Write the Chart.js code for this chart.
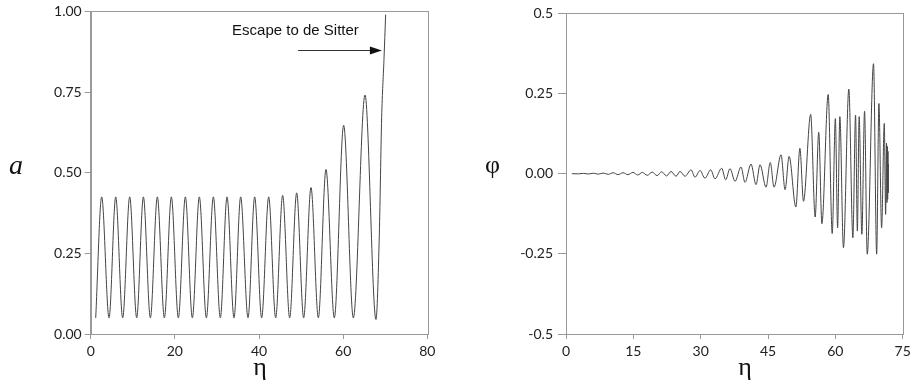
<!DOCTYPE html>
<html>
<head>
<meta charset="utf-8">
<script src="https://cdn.jsdelivr.net/npm/chart.js@4.4.1/dist/chart.umd.min.js"></script>
<style>
  html, body { margin: 0; padding: 0; background: #fff; }
  #wrap { position: relative; width: 915px; height: 390px; }
  canvas { position: absolute; top: 0; }
</style>
</head>
<body>
<div id="wrap">
  <canvas id="left" width="458" height="390" style="left:0"></canvas>
  <canvas id="right" width="457" height="390" style="left:458px"></canvas>
</div>
<script>
// scale factor a(eta): peaks and troughs
const etaA = [1.19, 2.61, 4.36, 5.94, 7.60, 9.27, 10.93, 12.52, 14.18, 15.84, 17.51, 19.17,
  20.83, 22.50, 24.16, 25.82, 27.49, 29.15, 30.81, 32.40, 34.06, 35.64, 37.39, 38.97,
  40.63, 42.30, 43.96, 45.62, 47.29, 48.95, 50.61, 52.36, 54.10, 55.92, 57.90, 60.12,
  62.42, 65.19, 67.80, 68.6, 69.15, 69.7, 70.1];
const aVals = [0.05, 0.425, 0.05, 0.425, 0.05, 0.425, 0.05, 0.425, 0.05, 0.425, 0.05, 0.425,
  0.05, 0.425, 0.05, 0.425, 0.05, 0.425, 0.05, 0.425, 0.05, 0.425, 0.05, 0.425,
  0.05, 0.425, 0.05, 0.43, 0.05, 0.4375, 0.05, 0.454, 0.05, 0.51, 0.05, 0.647,
  0.05, 0.741, 0.045, 0.31, 0.67, 0.85, 0.99];

// scalar field phi(eta): peaks and troughs
const etaPhi = [1.3, 2.8, 3.9, 5.0, 6.1, 7.2, 8.3, 9.4, 10.5, 11.6, 12.7, 13.8, 14.9, 16.0,
  17.0, 18.1, 19.2, 20.3, 21.3, 22.4, 23.4, 24.5, 25.4, 26.51, 27.85, 28.74, 29.85, 30.96,
  32.23, 33.19, 34.68, 35.57, 36.53, 37.65, 38.98, 39.87, 41.21, 42.33, 43.22, 44.55, 45.5,
  46.34, 47.9, 48.8, 49.7, 51.2, 52.1, 52.9, 54.5, 55.5, 56.3, 57.0, 58.4, 59.3, 60.0, 60.5,
  61.0, 61.8, 63.0, 63.9, 64.5, 64.9, 65.3, 65.9, 66.5, 67.1, 68.5, 69.2, 69.7, 70.3, 70.9,
  71.2, 71.4, 71.5, 71.58, 71.65, 71.72, 71.78, 71.83];
const phiVals = [0, -0.0005, 0.001, -0.001, 0.0015, -0.0015, 0.002, -0.002, 0.003, -0.003,
  0.003, -0.003, 0.004, -0.004, 0.004, -0.005, 0.005, -0.006, 0.006, -0.007, 0.007, -0.008,
  0.007, -0.008, 0.012, -0.011, 0.010, -0.014, 0.012, -0.016, 0.017, -0.019, 0.016, -0.024,
  0.021, -0.027, 0.030, -0.034, 0.028, -0.042, 0.035, -0.042, 0.059, -0.050, 0.054, -0.104,
  0.079, -0.086, 0.185, -0.135, 0.129, -0.156, 0.247, -0.187, 0.172, -0.169, 0.178, -0.231,
  0.264, -0.200, 0.183, -0.179, 0.178, -0.189, 0.195, -0.251, 0.343, -0.251, 0.219, -0.169,
  0.157, -0.127, 0.095, -0.09, 0.085, -0.08, 0.07, -0.06, 0.03];

// tick labels
const xTicksA = ['0', '20', '40', '60', '80'];
const yTicksA = ['0.00', '0.25', '0.50', '0.75', '1.00'];
const xTicksPhi = ['0', '15', '30', '45', '60', '75'];
const yTicksPhi = ['-0.5', '-0.25', '0.00', '0.25', '0.5'];

const tickFont = { family: 'Lato', size: 14 };
const axisGray = '#999';

const frame = {
  id: 'frame',
  afterDraw(chart) {
    const { ctx, chartArea: c } = chart;
    ctx.save();
    ctx.strokeStyle = axisGray;
    ctx.lineWidth = 1;
    ctx.strokeRect(Math.round(c.left) + 0.5, Math.round(c.top) + 0.5,
      Math.round(c.right - c.left), Math.round(c.bottom - c.top));
    ctx.restore();
  }
};

const axisLabels = {
  id: 'axisLabels',
  afterDraw(chart, args, opts) {
    const { ctx } = chart;
    ctx.save();
    ctx.fillStyle = '#111';
    ctx.textAlign = 'center';
    ctx.textBaseline = 'alphabetic';
    (opts.items || []).forEach(it => {
      ctx.font = it.font;
      ctx.fillText(it.text, it.x, it.y);
    });
    ctx.restore();
  }
};

const escapeNote = {
  id: 'escapeNote',
  afterDatasetsDraw(chart) {
    const { ctx, scales: { x, y } } = chart;
    ctx.save();
    ctx.font = '15px "Liberation Sans"';
    ctx.fillStyle = '#111';
    ctx.fillText('Escape to de Sitter', x.getPixelForValue(33.6), y.getPixelForValue(0.926));
    const y0 = Math.round(y.getPixelForValue(0.881)) + 0.5;
    const x0 = x.getPixelForValue(49.3);
    const x1 = x.getPixelForValue(69.2);
    ctx.strokeStyle = '#333';
    ctx.lineWidth = 1;
    ctx.beginPath();
    ctx.moveTo(x0, y0);
    ctx.lineTo(x1 - 10, y0);
    ctx.stroke();
    ctx.beginPath();
    ctx.moveTo(x1, y0);
    ctx.lineTo(x1 - 12, y0 - 4);
    ctx.lineTo(x1 - 12, y0 + 4);
    ctx.closePath();
    ctx.fill();
    ctx.restore();
  }
};

function makeChart(id, xs, ys, cfg) {
  const points = xs.map((x, i) => ({ x, y: ys[i] }));
  return new Chart(document.getElementById(id), {
    type: 'line',
    data: {
      datasets: [{
        data: points,
        borderColor: '#444',
        borderWidth: 1,
        pointRadius: 0,
        fill: false,
        cubicInterpolationMode: 'monotone'
      }]
    },
    options: {
      responsive: false,
      animation: false,
      devicePixelRatio: 1,
      layout: { padding: { left: 0, top: 11, right: cfg.padRight, bottom: 0 } },
      plugins: {
        legend: { display: false },
        tooltip: { enabled: false },
        axisLabels: { items: cfg.labels }
      },
      scales: {
        x: {
          type: 'linear',
          min: cfg.xMin, max: cfg.xMax,
          afterFit: s => { s.height = 56; },
          border: { color: axisGray },
          grid: { drawOnChartArea: false, tickLength: 5, color: axisGray },
          ticks: {
            stepSize: cfg.xStep, font: tickFont, color: '#222', padding: 4, maxRotation: 0,
            callback: (v, i) => cfg.xLabels[i]
          }
        },
        y: {
          min: cfg.yMin, max: cfg.yMax,
          afterFit: s => { s.width = cfg.yWidth; },
          border: { color: axisGray },
          grid: { drawOnChartArea: false, tickLength: cfg.yTickLen, color: axisGray },
          ticks: {
            stepSize: cfg.yStep, font: tickFont, color: '#222', padding: cfg.yPad,
            callback: (v, i) => cfg.yLabels[i]
          }
        }
      }
    },
    plugins: cfg.extra.concat([frame, axisLabels])
  });
}

makeChart('left', etaA, aVals, {
  xMin: 0, xMax: 80, xStep: 20, xLabels: xTicksA,
  yMin: 0, yMax: 1, yStep: 0.25, yLabels: yTicksA,
  yWidth: 90.7, padRight: 30.7, yTickLen: 6, yPad: 3,
  labels: [
    { text: 'a', font: 'italic 28px "Liberation Serif"', x: 16, y: 174 },
    { text: 'η', font: '26px "Liberation Serif"', x: 260, y: 375 }
  ],
  extra: [escapeNote]
});

makeChart('right', etaPhi, phiVals, {
  xMin: 0, xMax: 75, xStep: 15, xLabels: xTicksPhi,
  yMin: -0.5, yMax: 0.5, yStep: 0.25, yLabels: yTicksPhi,
  yWidth: 108, padRight: 12.3, yTickLen: 8, yPad: 5,
  labels: [
    { text: 'φ', font: '26px "Liberation Serif"', x: 34.5, y: 173 },
    { text: 'η', font: '26px "Liberation Serif"', x: 287, y: 375 }
  ],
  extra: []
});
</script>
</body>
</html>
